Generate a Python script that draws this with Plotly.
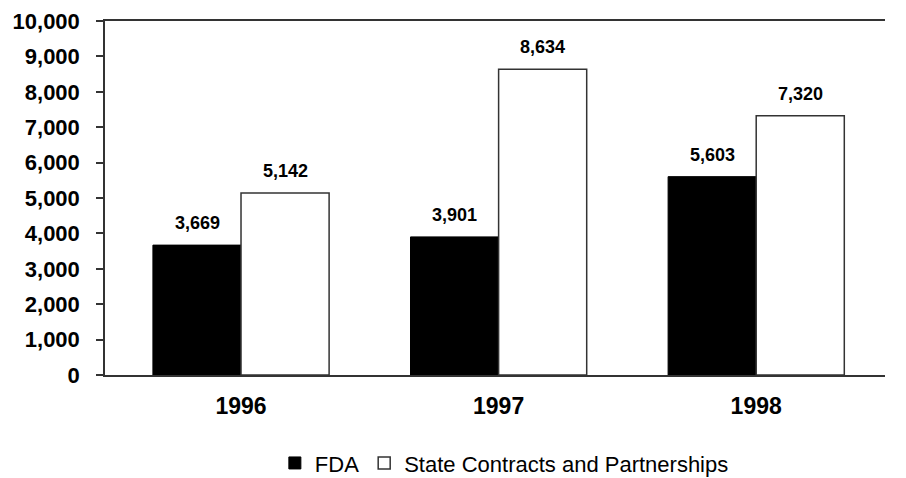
import plotly.graph_objects as go

years = ["1996", "1997", "1998"]
fda = [3669, 3901, 5603]
state = [5142, 8634, 7320]
series_names = ["FDA", "State Contracts and Partnerships"]
y_ticks = [0, 1000, 2000, 3000, 4000, 5000, 6000, 7000, 8000, 9000, 10000]
y_tick_labels = ["0", "1,000", "2,000", "3,000", "4,000", "5,000", "6,000",
                 "7,000", "8,000", "9,000", "10,000"]

FONT = "Liberation Sans, Arial, sans-serif"
LINE = "#333333"

fig = go.Figure()
fig.add_trace(go.Bar(
    x=years, y=fda, name=series_names[0],
    marker=dict(color="black", line=dict(color="black", width=1)),
))
fig.add_trace(go.Bar(
    x=years, y=state, name=series_names[1],
    marker=dict(color="white", line=dict(color=LINE, width=1.5)),
))

# value labels above bars (x given as category index)
for vals, shift in ((fda, -44), (state, 44)):
    for i, v in enumerate(vals):
        fig.add_annotation(
            x=i, y=v, text=f"<b>{v:,}</b>", showarrow=False,
            xanchor="center", yanchor="bottom", xshift=shift, yshift=10,
            font=dict(family=FONT, size=18, color="black"),
        )

fig.update_layout(
    width=898, height=470,
    margin=dict(l=97, r=21, t=13, b=103, autoexpand=False),
    paper_bgcolor="white", plot_bgcolor="white",
    barmode="group", bargap=0.316, bargroupgap=0,
    showlegend=True,
    legend=dict(
        orientation="h", x=0.512, xanchor="center", y=-0.249, yanchor="middle",
        font=dict(family=FONT, size=22, color="black"),
        itemwidth=30, traceorder="normal",
    ),
    font=dict(family=FONT, color="black"),
)
fig.update_xaxes(
    type="category", categoryorder="array", categoryarray=years,
    range=[-0.528, 2.5],
    tickvals=years, ticktext=[f"<b>{y}</b>" for y in years],
    showline=True, linecolor=LINE, linewidth=1.5, mirror=True,
    ticks="", showgrid=False,
    tickfont=dict(family=FONT, size=23, color="black"),
    ticklabelstandoff=10,
)
fig.update_yaxes(
    range=[0, 10000], tickvals=y_ticks, ticktext=[f"<b>{t}</b>" for t in y_tick_labels],
    showline=True, linecolor=LINE, linewidth=1.5,
    ticks="outside", ticklen=7, tickcolor=LINE, tickwidth=1.5,
    showgrid=False, zeroline=False,
    tickfont=dict(family=FONT, size=22, color="black"),
    ticklabelstandoff=12,
)

fig.write_html("out.html")
